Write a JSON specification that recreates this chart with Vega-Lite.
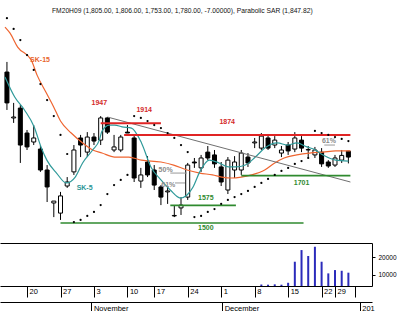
{
  "$schema": "https://vega.github.io/schema/vega-lite/v6.json",
  "padding": 0,
  "background": "white",
  "spacing": 0,
  "config": {
    "view": {"stroke": null},
    "font": "'Liberation Sans', Arial, sans-serif",
    "axis": {"domainColor": "#000", "tickColor": "#000", "labelColor": "#000", "grid": false, "title": null, "labelFont": "'Liberation Sans', Arial, sans-serif"}
  },
  "datasets": {
    "candles": [
      {"i":0,"o":2141,"h":2184,"l":1980,"c":2010},
      {"i":1,"o":1946,"h":2010,"l":1925,"c":1950},
      {"i":2,"o":1988,"h":2001,"l":1755,"c":1831},
      {"i":3,"o":1882,"h":1895,"l":1810,"c":1823},
      {"i":4,"o":1844,"h":1916,"l":1831,"c":1861},
      {"i":5,"o":1814,"h":1831,"l":1717,"c":1725},
      {"i":6,"o":1725,"h":1746,"l":1589,"c":1653},
      {"i":7,"o":1585,"h":1593,"l":1525,"c":1593},
      {"i":8,"o":1542,"h":1632,"l":1513,"c":1615},
      {"i":9,"o":1657,"h":1695,"l":1649,"c":1674},
      {"i":10,"o":1717,"h":1831,"l":1704,"c":1810},
      {"i":11,"o":1861,"h":1874,"l":1780,"c":1831},
      {"i":12,"o":1801,"h":1886,"l":1780,"c":1865},
      {"i":13,"o":1865,"h":1882,"l":1831,"c":1848},
      {"i":14,"o":1852,"h":1954,"l":1831,"c":1946},
      {"i":15,"o":1946,"h":1950,"l":1878,"c":1886},
      {"i":16,"o":1810,"h":1874,"l":1801,"c":1823},
      {"i":17,"o":1810,"h":1874,"l":1801,"c":1865},
      {"i":18,"o":1886,"h":1916,"l":1882,"c":1882},
      {"i":19,"o":1861,"h":1874,"l":1674,"c":1691},
      {"i":20,"o":1678,"h":1734,"l":1649,"c":1704},
      {"i":21,"o":1759,"h":1784,"l":1695,"c":1704},
      {"i":22,"o":1725,"h":1746,"l":1640,"c":1661},
      {"i":23,"o":1653,"h":1661,"l":1576,"c":1610},
      {"i":24,"o":1632,"h":1657,"l":1581,"c":1636},
      {"i":25,"o":1530,"h":1576,"l":1525,"c":1532},
      {"i":26,"o":1564,"h":1610,"l":1534,"c":1576},
      {"i":27,"o":1610,"h":1755,"l":1598,"c":1746},
      {"i":28,"o":1759,"h":1776,"l":1734,"c":1755},
      {"i":29,"o":1734,"h":1789,"l":1717,"c":1776},
      {"i":30,"o":1801,"h":1827,"l":1767,"c":1776},
      {"i":31,"o":1789,"h":1810,"l":1734,"c":1751},
      {"i":32,"o":1738,"h":1759,"l":1657,"c":1674},
      {"i":33,"o":1640,"h":1780,"l":1623,"c":1767},
      {"i":34,"o":1725,"h":1784,"l":1691,"c":1759},
      {"i":35,"o":1725,"h":1810,"l":1704,"c":1797},
      {"i":36,"o":1780,"h":1797,"l":1738,"c":1755},
      {"i":37,"o":1840,"h":1861,"l":1818,"c":1844},
      {"i":38,"o":1818,"h":1882,"l":1810,"c":1869},
      {"i":39,"o":1861,"h":1878,"l":1810,"c":1818},
      {"i":40,"o":1831,"h":1869,"l":1818,"c":1852},
      {"i":41,"o":1797,"h":1827,"l":1780,"c":1810},
      {"i":42,"o":1831,"h":1844,"l":1789,"c":1806},
      {"i":43,"o":1814,"h":1886,"l":1801,"c":1861},
      {"i":44,"o":1852,"h":1869,"l":1801,"c":1818},
      {"i":45,"o":1810,"h":1827,"l":1776,"c":1812},
      {"i":46,"o":1789,"h":1823,"l":1776,"c":1810},
      {"i":47,"o":1801,"h":1818,"l":1738,"c":1751},
      {"i":48,"o":1759,"h":1767,"l":1734,"c":1742},
      {"i":49,"o":1746,"h":1789,"l":1738,"c":1776},
      {"i":50,"o":1767,"h":1810,"l":1755,"c":1787},
      {"i":51,"o":1805,"h":1806,"l":1753,"c":1780}
    ],
    "sma15": [
      {"i":-0.29,"p":2332},{"i":0.44,"p":2307},{"i":1.6,"p":2247},{"i":3.63,"p":2192},{"i":4.5,"p":2128},
      {"i":5.81,"p":2056},{"i":6.98,"p":1993},{"i":8.0,"p":1933},{"i":9.6,"p":1882},{"i":11.3,"p":1840},
      {"i":12.8,"p":1810},{"i":14.2,"p":1797},{"i":16.1,"p":1780},{"i":18.2,"p":1780},{"i":20.1,"p":1767},
      {"i":23.0,"p":1759},{"i":24.9,"p":1746},{"i":26.9,"p":1725},{"i":28.8,"p":1712},{"i":30.7,"p":1704},
      {"i":32.1,"p":1695},{"i":33.6,"p":1691},{"i":35.0,"p":1695},{"i":36.5,"p":1704},{"i":38.5,"p":1725},
      {"i":40.0,"p":1755},{"i":41.4,"p":1776},{"i":43.3,"p":1789},{"i":45.2,"p":1797},{"i":47.2,"p":1801},
      {"i":49.1,"p":1806},{"i":51.3,"p":1806}
    ],
    "sma5": [
      {"i":-0.29,"p":2120},{"i":1.16,"p":2035},{"i":2.62,"p":1980},{"i":4.07,"p":1908},{"i":5.09,"p":1823},
      {"i":5.96,"p":1767},{"i":7.41,"p":1712},{"i":8.87,"p":1670},{"i":10.2,"p":1695},{"i":11.3,"p":1755},
      {"i":12.8,"p":1810},{"i":13.8,"p":1852},{"i":14.2,"p":1890},{"i":15.3,"p":1916},{"i":16.1,"p":1916},
      {"i":17.2,"p":1908},{"i":18.6,"p":1903},{"i":20.1,"p":1840},{"i":21.5,"p":1738},{"i":23.0,"p":1683},
      {"i":24.4,"p":1640},{"i":25.9,"p":1606},{"i":26.9,"p":1619},{"i":27.8,"p":1653},{"i":28.8,"p":1717},
      {"i":30.2,"p":1767},{"i":31.7,"p":1755},{"i":33.1,"p":1738},{"i":34.2,"p":1738},{"i":35.6,"p":1746},
      {"i":37.1,"p":1780},{"i":38.5,"p":1818},{"i":40.4,"p":1840},{"i":41.9,"p":1831},{"i":43.3,"p":1840},
      {"i":44.8,"p":1823},{"i":45.8,"p":1814},{"i":47.2,"p":1789},{"i":49.1,"p":1767},{"i":51.0,"p":1763}
    ],
    "sar": [
      {"i":0,"p":2370},{"i":1,"p":2324},{"i":2,"p":2277},{"i":3,"p":2213},{"i":4,"p":2150},{"i":5,"p":2090},
      {"i":6,"p":2022},{"i":7,"p":1954},{"i":8,"p":1874},{"i":9,"p":1793},{"i":10,"p":1504},{"i":11,"p":1513},
      {"i":12,"p":1530},{"i":13,"p":1547},{"i":14,"p":1576},{"i":15,"p":1623},{"i":16,"p":1661},{"i":17,"p":1683},
      {"i":18,"p":1704},{"i":19,"p":1954},{"i":20,"p":1946},{"i":21,"p":1933},{"i":22,"p":1916},{"i":23,"p":1903},
      {"i":24,"p":1882},{"i":25,"p":1861},{"i":26,"p":1831},{"i":27,"p":1801},{"i":28,"p":1525},{"i":29,"p":1530},
      {"i":30,"p":1547},{"i":31,"p":1559},{"i":32,"p":1581},{"i":33,"p":1598},{"i":34,"p":1610},{"i":35,"p":1623},
      {"i":36,"p":1636},{"i":37,"p":1653},{"i":38,"p":1670},{"i":39,"p":1687},{"i":40,"p":1704},{"i":41,"p":1721},
      {"i":42,"p":1734},{"i":43,"p":1751},{"i":44,"p":1763},{"i":45,"p":1776},{"i":46,"p":1891},{"i":47,"p":1882},
      {"i":48,"p":1874},{"i":49,"p":1865},{"i":50,"p":1857},{"i":51,"p":1847.82}
    ],
    "resistance": [
      {"i":14,"i2":23,"p":1924},
      {"i":17.5,"i2":51.3,"p":1874}
    ],
    "support": [
      {"i":8,"i2":44.3,"p":1500},
      {"i":24.4,"i2":34.2,"p":1575},
      {"i":35,"i2":51.3,"p":1701}
    ],
    "trend": [
      {"i":15,"i2":51.3,"p":1950,"p2":1674}
    ],
    "fib": [
      {"i":24.4,"i2":26.9,"p":1712},
      {"i":25.1,"i2":26.6,"p":1670},
      {"i":47.4,"i2":49,"p":1831}
    ],
    "labels": [
      {"i":4.94,"p":2192,"t":"SK-15","k":"sk15"},
      {"i":11.6,"p":1649,"t":"SK-5","k":"sk5"},
      {"i":13.8,"p":2010,"t":"1947","k":"res"},
      {"i":20.5,"p":1980,"t":"1914","k":"res"},
      {"i":32.9,"p":1929,"t":"1874","k":"res"},
      {"i":29.7,"p":1606,"t":"1575","k":"sup"},
      {"i":29.7,"p":1479,"t":"1500","k":"sup"},
      {"i":44.0,"p":1668,"t":"1701","k":"sup"},
      {"i":23.7,"p":1725,"t":"50%","k":"fib"},
      {"i":24.1,"p":1661,"t":"61%","k":"fib"},
      {"i":48.1,"p":1850,"t":"61%","k":"fib"}
    ],
    "volume": [
      {"i":38,"v":4300},{"i":39,"v":4200},{"i":40,"v":4400},{"i":41,"v":4200},{"i":42,"v":5300},
      {"i":43,"v":17400},{"i":44,"v":24100},{"i":45,"v":20700},{"i":46,"v":26000},{"i":47,"v":17400},
      {"i":48,"v":10700},{"i":49,"v":12600},{"i":50,"v":12200},{"i":51,"v":11100}
    ]
  },
  "vconcat": [
    {
      "width": 372,
      "height": 243,
      "title": {
        "text": "FM20H09 (1,805.00, 1,806.00, 1,753.00, 1,780.00, -7.00000), Parabolic SAR (1,847.82)",
        "anchor": "start", "frame": "group", "dx": 52, "offset": -20,
        "fontSize": 6.7, "fontWeight": "normal", "color": "#111", "baseline": "alphabetic"
      },
      "encoding": {
        "x": {"field": "i", "type": "quantitative",
              "scale": {"domain": [-0.29, 53.78], "nice": false, "zero": false},
              "axis": {"orient": "bottom", "domain": true, "ticks": false, "labels": false, "title": null}},
        "y": {"field": "p", "type": "quantitative",
              "scale": {"domain": [1415, 2447], "nice": false, "zero": false},
              "axis": {"orient": "right", "values": [1450,1500,1550,1600,1650,1700,1750,1800,1850,1900,1950,2000,2050,2100,2150,2200,2250,2300,2350,2400],
                       "format": "d", "labelExpr": "datum.value % 100 === 0 ? datum.label : ''",
                       "tickSize": 3, "labelPadding": 3, "labelFontSize": 7, "title": null, "labelOverlap": false}}
      },
      "layer": [
        {
          "data": {"name": "candles"},
          "mark": {"type": "rule", "color": "black", "strokeWidth": 1},
          "encoding": {
            "y": {"field": "l", "type": "quantitative", "scale": {"domain": [1415, 2447], "nice": false, "zero": false}, "axis": null},
            "y2": {"field": "h"}
          }
        },
        {
          "data": {"name": "candles"},
          "mark": {"type": "bar", "size": 4, "stroke": "black", "strokeWidth": 1},
          "encoding": {
            "y": {"field": "o", "type": "quantitative", "scale": {"domain": [1415, 2447], "nice": false, "zero": false}, "axis": null},
            "y2": {"field": "c"},
            "fill": {"condition": {"test": "datum.o > datum.c", "value": "black"}, "value": "white"}
          }
        },
        {
          "data": {"name": "sma15"},
          "mark": {"type": "line", "color": "#ef6530", "strokeWidth": 1.2, "interpolate": "monotone"}
        },
        {
          "data": {"name": "sma5"},
          "mark": {"type": "line", "color": "#2f9a9a", "strokeWidth": 1.2, "interpolate": "monotone"}
        },
        {
          "data": {"name": "trend"},
          "mark": {"type": "rule", "color": "#707070", "strokeWidth": 1},
          "encoding": {"x2": {"field": "i2"}, "y2": {"field": "p2"}}
        },
        {
          "data": {"name": "resistance"},
          "mark": {"type": "rule", "color": "#e02424", "strokeWidth": 2},
          "encoding": {"x2": {"field": "i2"}}
        },
        {
          "data": {"name": "support"},
          "mark": {"type": "rule", "color": "#2f8a2f", "strokeWidth": 1.6},
          "encoding": {"x2": {"field": "i2"}}
        },
        {
          "data": {"name": "fib"},
          "mark": {"type": "rule", "color": "#999999", "strokeWidth": 1},
          "encoding": {"x2": {"field": "i2"}}
        },
        {
          "data": {"name": "sar"},
          "mark": {"type": "point", "filled": true, "color": "black", "size": 5, "opacity": 1}
        },
        {
          "data": {"name": "labels"},
          "mark": {"type": "text", "fontSize": 7, "fontWeight": "bold", "align": "center", "baseline": "middle"},
          "encoding": {
            "text": {"field": "t", "type": "nominal"},
            "color": {"field": "k", "type": "nominal", "legend": null,
                      "scale": {"domain": ["res", "sup", "fib", "sk15", "sk5"],
                                "range": ["#d42a2a", "#2f8a2f", "#8a8a8a", "#e8642c", "#2a9595"]}}
          }
        }
      ]
    },
    {
      "width": 372,
      "height": 43,
      "data": {"name": "volume"},
      "mark": {"type": "bar", "size": 2, "color": "#2b2bbb", "clip": true},
      "encoding": {
        "x": {"field": "i", "type": "quantitative",
              "scale": {"domain": [-0.29, 53.78], "nice": false, "zero": false},
              "axis": {"orient": "bottom", "values": [3,8,13,18,22,27,32,37,42,47,49,52],
                       "labelExpr": "datum.value==3?'20':datum.value==8?'27':datum.value==13?'3':datum.value==18?'10':datum.value==22?'17':datum.value==27?'24':datum.value==32?'1':datum.value==37?'8':datum.value==42?'15':datum.value==47?'22':datum.value==49?'29':''",
                       "tickSize": 11, "labelAlign": "left", "labelBaseline": "top", "labelPadding": -10, "labelOffset": 2,
                       "labelFontSize": 7.5, "labelOverlap": false, "labelFlush": false, "labelBound": false, "title": null}},
        "y": {"field": "v", "type": "quantitative",
              "scale": {"domain": [3450, 28160], "nice": false, "zero": false},
              "axis": {"orient": "right", "values": [10000, 20000], "format": "d", "tickSize": 3, "labelPadding": 3, "labelFontSize": 6.5, "title": null}},
        "y2": {"datum": 0}
      }
    },
    {
      "width": 372,
      "height": 1,
      "data": {"name": "volume"},
      "mark": {"type": "point", "opacity": 0},
      "encoding": {
        "x": {"field": "i", "type": "quantitative",
              "scale": {"domain": [-0.29, 53.78], "nice": false, "zero": false},
              "axis": {"orient": "bottom", "values": [13, 32, 52],
                       "labelExpr": "datum.value==13?'November':datum.value==32?'December':'201'",
                       "tickSize": 12, "labelAlign": "left", "labelBaseline": "top", "labelPadding": -10, "labelOffset": 2,
                       "labelFontSize": 7.5, "labelOverlap": false, "labelFlush": false, "labelBound": false, "title": null}}
      }
    }
  ]
}
